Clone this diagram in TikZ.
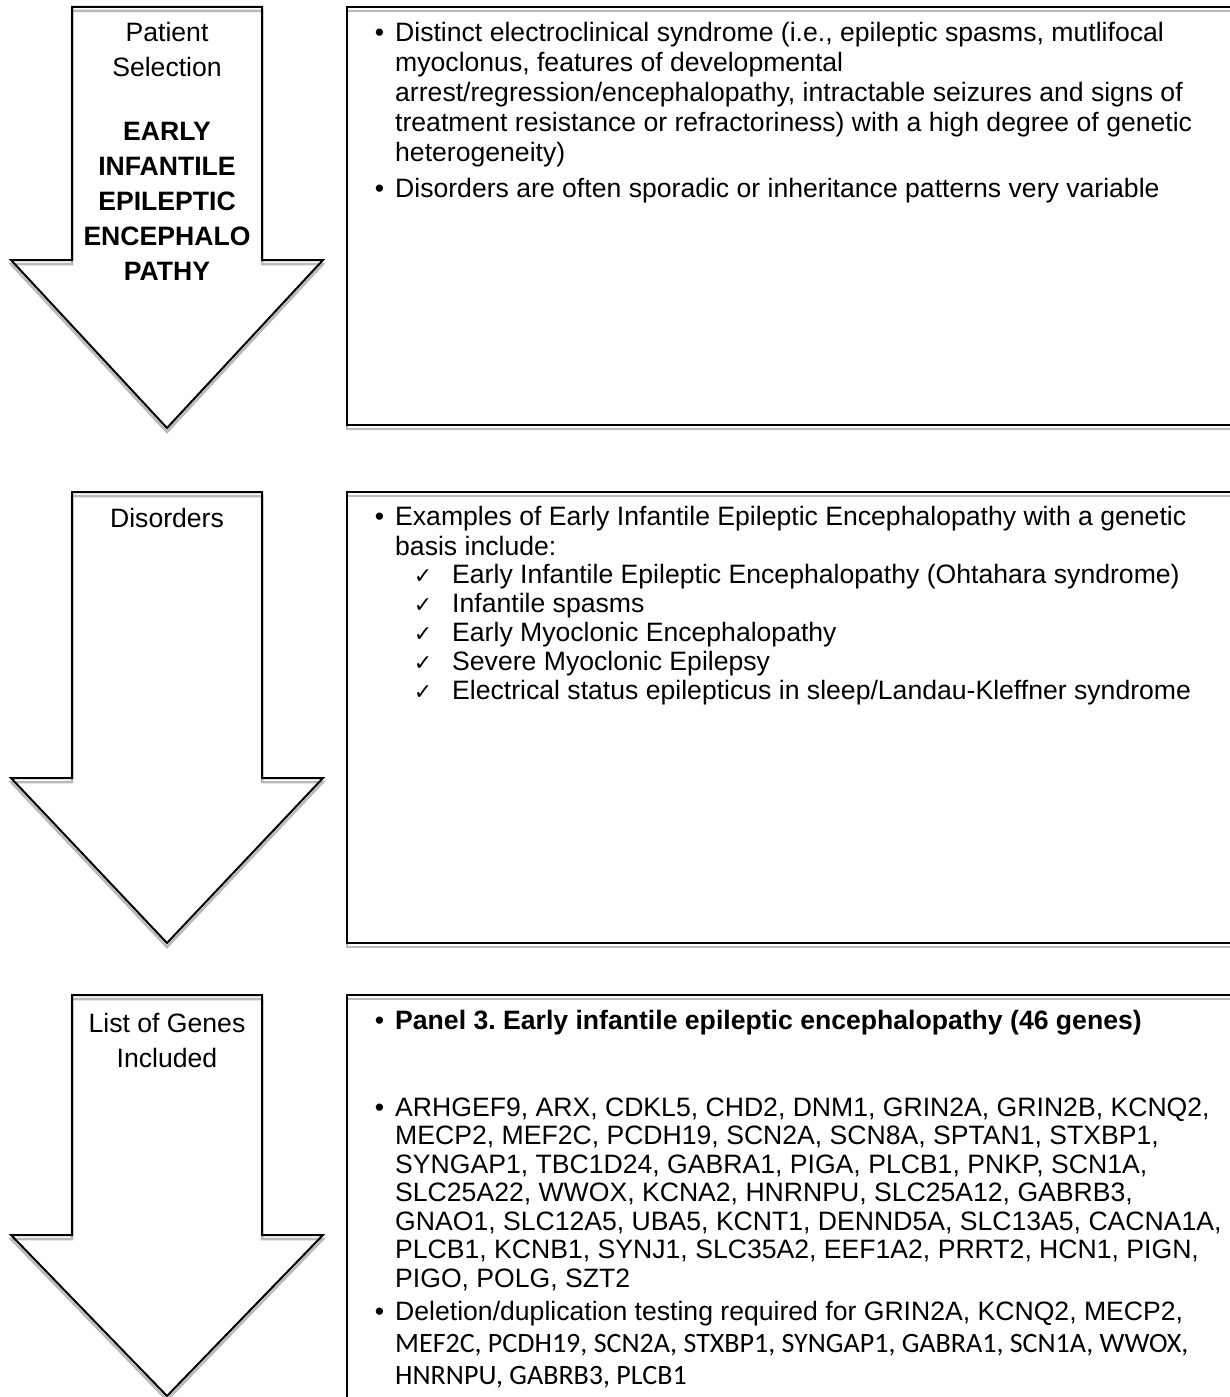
\documentclass[tikz,border=0pt]{standalone}
\usepackage{fontspec}
\setmainfont{Liberation Sans}
\newfontfamily\calibfont{Carlito}
\newfontfamily\checkfont{DejaVu Sans}
\frenchspacing
\newcommand\bodyfnt{\fontsize{26.6pt}{30pt}\selectfont\lineskiplimit=-100pt\lineskip=0pt\frenchspacing}
\newcommand\arrowfnt{\fontsize{26.6pt}{35pt}\selectfont\lineskiplimit=-100pt\lineskip=0pt}
\newcommand\bul{\leavevmode\llap{\textbullet\hspace{11pt}}}
\newcommand\chk{\leavevmode\llap{{\checkfont\fontsize{22pt}{22pt}\selectfont ✓}\hspace{20pt}}}
\tikzset{
  outl/.style={draw=black, line width=2pt, line join=miter},
  shad/.style={draw=gray!55, line width=2.5pt, line join=miter},
  txt/.style={inner sep=0pt, anchor=base west},
  ctxt/.style={inner sep=0pt, anchor=base},
}
\begin{document}
\begin{tikzpicture}[x=1pt,y=1pt]
\useasboundingbox (0,0) rectangle (1230,-1397);
\fill[white] (0,0) rectangle (1230,-1397);
\clip (0,0) rectangle (1230,-1397);

% ---- shapes: shadows first
\foreach \t/\s/\b in {7/260/428, 492/778/943, 995/1235/1396}{
  \draw[shad, shift={(0,-4)}] (72,-\t) -- (262,-\t) -- (262,-\s) -- (323,-\s) -- (167,-\b) -- (11,-\s) -- (72,-\s) -- cycle;
}
\draw[shad, shift={(0,-4)}] (347,-7) rectangle (1250,-425);
\draw[shad, shift={(0,-4)}] (347,-492) rectangle (1250,-943);
\draw[shad, shift={(0,-4)}] (347,-995) rectangle (1250,-1450);
\foreach \t/\s/\b in {7/260/428, 492/778/943, 995/1235/1396}{
  \draw[outl] (72,-\t) -- (262,-\t) -- (262,-\s) -- (323,-\s) -- (167,-\b) -- (11,-\s) -- (72,-\s) -- cycle;
}
\draw[outl] (347,-7) rectangle (1250,-425);
\draw[outl] (347,-492) rectangle (1250,-943);
\draw[outl] (347,-995) rectangle (1250,-1450);

% ---- arrow labels
\node[ctxt] (a1a) at (167,-42) {\parbox[t]{190pt}{\centering\arrowfnt Patient\\Selection}};
\node[ctxt] (a1b) at (167,-140) {\parbox[t]{200pt}{\centering\arrowfnt\bfseries EARLY\\INFANTILE\\EPILEPTIC\\ENCEPHALO\\PATHY}};
\node[ctxt] (a2) at (167,-527) {\parbox[t]{190pt}{\centering\arrowfnt Disorders}};
\node[ctxt] (a3) at (167,-1032) {\parbox[t]{190pt}{\centering\arrowfnt List of Genes\\Included}};

% ---- box 1
\node[txt] (b1p1) at (395,-41.5) {\parbox[t]{830pt}{\raggedright\bodyfnt
\bul Distinct electroclinical syndrome (i.e., epileptic spasms, mutlifocal\\
myoclonus, features of developmental\\
arrest/regression/encephalopathy, intractable seizures and signs of\\
treatment resistance or refractoriness) with a high degree of genetic\\
heterogeneity)}};
\node[txt] (b1p2) at (395,-197.5) {\parbox[t]{830pt}{\raggedright\bodyfnt
\bul Disorders are often sporadic or inheritance patterns very variable}};

% ---- box 2
\node[txt] (b2p1) at (395,-525) {\parbox[t]{830pt}{\raggedright\bodyfnt
\bul Examples of Early Infantile Epileptic Encephalopathy with a genetic\\
basis include:}};
\node[txt] (b2p2) at (452,-583) {\parbox[t]{780pt}{\raggedright\fontsize{26.6pt}{29pt}\selectfont\lineskiplimit=-100pt\lineskip=0pt
\chk Early Infantile Epileptic Encephalopathy (Ohtahara syndrome)\\
\chk Infantile spasms\\
\chk Early Myoclonic Encephalopathy\\
\chk Severe Myoclonic Epilepsy\\
\chk Electrical status epilepticus in sleep/Landau-Kleffner syndrome}};

% ---- box 3
\node[txt] (b3p1) at (395,-1029.5) {\parbox[t]{830pt}{\raggedright\bodyfnt
\bul\textbf{Panel 3. Early infantile epileptic encephalopathy (46 genes)}}};
\node[txt] (b3p2) at (395,-1116) {\parbox[t]{830pt}{\raggedright\fontsize{26.6pt}{28.5pt}\selectfont\lineskiplimit=-100pt\lineskip=0pt
\bul ARHGEF9, ARX, CDKL5, CHD2, DNM1, GRIN2A, GRIN2B, KCNQ2,\\
MECP2, MEF2C, PCDH19, SCN2A, SCN8A, SPTAN1, STXBP1,\\
SYNGAP1, TBC1D24, GABRA1, PIGA, PLCB1, PNKP, SCN1A,\\
SLC25A22, WWOX, KCNA2, HNRNPU, SLC25A12, GABRB3,\\
GNAO1, SLC12A5, UBA5, KCNT1, DENND5A, SLC13A5, CACNA1A,\\
PLCB1, KCNB1, SYNJ1, SLC35A2, EEF1A2, PRRT2, HCN1, PIGN,\\
PIGO, POLG, SZT2}};
\node[txt] (b3p3) at (395,-1320) {\parbox[t]{830pt}{\raggedright\bodyfnt
\bul Deletion/duplication testing required for GRIN2A, KCNQ2, MECP2,}};
\node[txt] (b3p4) at (395,-1352) {\parbox[t]{830pt}{\raggedright\calibfont\fontsize{28pt}{32pt}\selectfont\lineskiplimit=-100pt\lineskip=0pt
MEF2C, PCDH19, SCN2A, STXBP1, SYNGAP1, GABRA1, SCN1A, WWOX,\\
HNRNPU, GABRB3, PLCB1}};
\end{tikzpicture}
\end{document}
